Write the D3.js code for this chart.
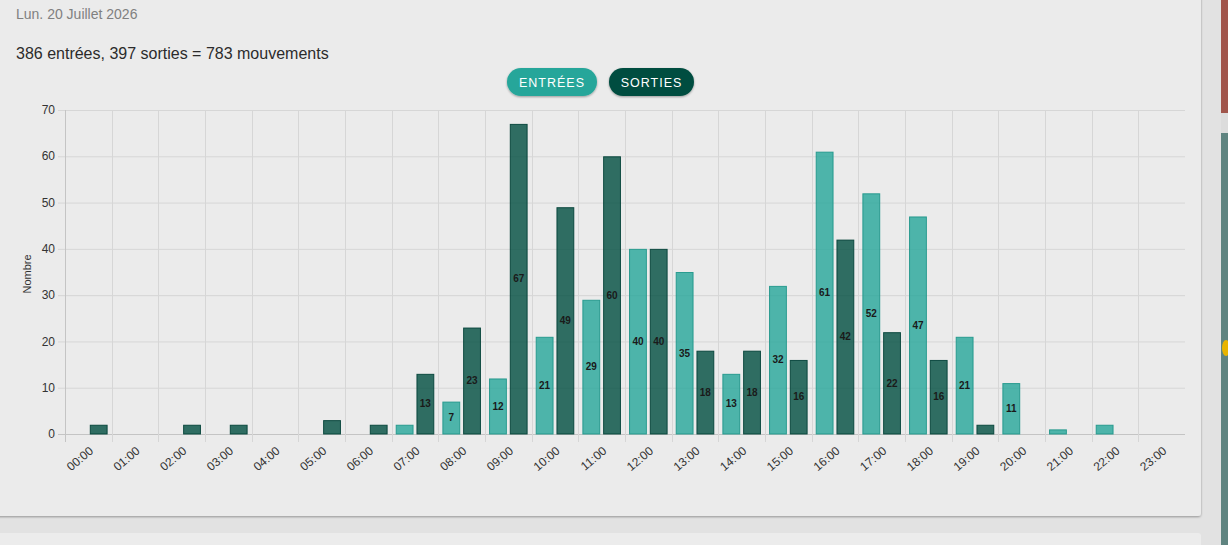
<!DOCTYPE html>
<html>
<head>
<meta charset="utf-8">
<script src="https://cdn.jsdelivr.net/npm/d3@7"></script>
<style>
  body { margin: 0; background: #e2e2e2; font-family: "Liberation Sans", Arial, sans-serif; }
  svg { display: block; }
</style>
</head>
<body>
<svg id="chart"></svg>
<script>
// hours on the x axis
var heures = ['00:00','01:00','02:00','03:00','04:00','05:00','06:00','07:00','08:00','09:00','10:00','11:00',
              '12:00','13:00','14:00','15:00','16:00','17:00','18:00','19:00','20:00','21:00','22:00','23:00'];
var entrees = [0,0,0,0,0,0,0,2,7,12,21,29,40,35,13,32,61,52,47,21,11,1,2,0];
var sorties = [2,0,2,2,0,3,2,13,23,67,49,60,40,18,18,16,42,22,16,2,0,0,0,0];
var yTicks = [0,10,20,30,40,50,60,70];
var series = [
    {name: 'ENTRÉES', values: entrees, fill: 'rgba(38,166,154,0.8)', stroke: 'rgba(30,150,138,0.9)', btn: '#26a69a'},
    {name: 'SORTIES', values: sorties, fill: 'rgba(0,77,64,0.8)', stroke: 'rgba(0,64,54,0.9)', btn: '#004d40'}
];

var W = 1228, H = 545;
var svg = d3.select('#chart').attr('width', W).attr('height', H);

// page decorations: right strip and cards
svg.append('rect').attr('x', 0).attr('y', 0).attr('width', W).attr('height', H).attr('fill', '#e2e2e2');
svg.append('rect').attr('x', 1221).attr('y', 0).attr('width', 7).attr('height', 113).attr('fill', '#a0554b');
svg.append('rect').attr('x', 1221).attr('y', 113).attr('width', 7).attr('height', 20).attr('fill', '#dcdcdc');
svg.append('rect').attr('x', 1221).attr('y', 133).attr('width', 7).attr('height', 412).attr('fill', '#5f8480');
svg.append('ellipse').attr('cx', 1226).attr('cy', 348).attr('rx', 4).attr('ry', 8).attr('fill', '#e8b400');

var defs = svg.append('defs');
var f = defs.append('filter').attr('id', 'shadow').attr('x', '-5%').attr('y', '-5%').attr('width', '110%').attr('height', '120%');
f.append('feDropShadow').attr('dx', 0).attr('dy', 1).attr('stdDeviation', 1).attr('flood-color', '#000').attr('flood-opacity', 0.35);

svg.append('rect').attr('x', -10).attr('y', 545 - 12).attr('width', 1211).attr('height', 40).attr('rx', 3)
    .attr('fill', '#ececec');
svg.append('rect').attr('x', -10).attr('y', -20).attr('width', 1211).attr('height', 536).attr('rx', 3)
    .attr('fill', '#ebebeb').attr('filter', 'url(#shadow)');

// header texts
svg.append('text').attr('x', 16).attr('y', 19).attr('font-size', 14).attr('fill', '#808080')
    .text('Lun. 20 Juillet 2026');
svg.append('text').attr('x', 16).attr('y', 59).attr('font-size', 16).attr('fill', '#2b2b2b')
    .text('386 entrées, 397 sorties = 783 mouvements');

// legend buttons
var btnPos = [{x: 507, w: 90}, {x: 609, w: 85}];
series.forEach(function(s, i) {
    var g = svg.append('g').attr('transform', 'translate(' + btnPos[i].x + ',68)');
    g.append('rect').attr('width', btnPos[i].w).attr('height', 28).attr('rx', 14)
        .attr('fill', s.btn).attr('filter', 'url(#shadow)');
    g.append('text').attr('x', btnPos[i].w / 2).attr('y', 18.5).attr('text-anchor', 'middle')
        .attr('font-size', 12.5).attr('fill', '#fff').attr('letter-spacing', 1).text(s.name);
});

// chart area
var plotL = 65, plotR = 1185, plotT = 110, plotB = 434;

var x = d3.scaleBand().domain(heures).range([plotL, plotR]).paddingInner(0).paddingOuter(0);
var inner = d3.scaleBand().domain([0, 1]).range([0, x.bandwidth()]).paddingOuter(0.125).paddingInner(0);
var y = d3.scaleLinear().domain([0, 70]).range([plotB, plotT]);

var grid = svg.append('g');
// horizontal grid
grid.selectAll('.hg').data(yTicks).enter().append('line')
    .attr('x1', plotL - 7).attr('x2', plotR)
    .attr('y1', function(d) { return y(d) + 0.5; }).attr('y2', function(d) { return y(d) + 0.5; })
    .attr('stroke', function(d) { return d === 0 ? '#c4c4c4' : '#d6d6d6'; }).attr('stroke-width', 1);
// vertical grid at band edges
var edges = heures.map(function(h) { return x(h); });
grid.selectAll('.vg').data(edges).enter().append('line')
    .attr('x1', function(d) { return Math.round(d) + 0.5; }).attr('x2', function(d) { return Math.round(d) + 0.5; })
    .attr('y1', plotT).attr('y2', plotB + 8)
    .attr('stroke', function(d, i) { return i === 0 ? '#c4c4c4' : '#d6d6d6'; }).attr('stroke-width', 1);

// y tick labels
svg.selectAll('.yl').data(yTicks).enter().append('text')
    .attr('x', plotL - 10).attr('y', function(d) { return y(d); }).attr('dy', '0.35em')
    .attr('text-anchor', 'end').attr('font-size', 12).attr('fill', '#333')
    .text(function(d) { return d; });

svg.append('text').attr('transform', 'translate(31,' + ((plotT + plotB) / 2 + 2) + ') rotate(-90)')
    .attr('text-anchor', 'middle').attr('font-size', 11).attr('fill', '#333').text('Nombre');

// x tick labels, rotated
svg.selectAll('.xl').data(heures).enter().append('text')
    .attr('transform', function(d) { return 'translate(' + (x(d) + x.bandwidth() / 2 + 3) + ',' + (plotB + 15) + ') rotate(-40)'; })
    .attr('text-anchor', 'end').attr('dy', '0.35em').attr('font-size', 12).attr('fill', '#333')
    .text(function(d) { return d; });

// bars
var bw = inner.bandwidth() * 0.86;
series.forEach(function(s, si) {
    var g = svg.append('g');
    var data = s.values.map(function(v, i) { return {h: heures[i], v: v}; }).filter(function(d) { return d.v > 0; });
    g.selectAll('rect').data(data).enter().append('rect')
        .attr('x', function(d) { return x(d.h) + inner(si) + (inner.bandwidth() - bw) / 2 + 0.5; })
        .attr('y', function(d) { return y(d.v) + 0.5; })
        .attr('width', bw - 1)
        .attr('height', function(d) { return plotB - y(d.v) - 0.5; })
        .attr('fill', s.fill).attr('stroke', s.stroke).attr('stroke-width', 1);
    g.selectAll('text').data(data.filter(function(d) { return d.v > 5; })).enter().append('text')
        .attr('x', function(d) { return x(d.h) + inner(si) + inner.bandwidth() / 2; })
        .attr('y', function(d) { return (y(d.v) + plotB) / 2; })
        .attr('dy', '0.35em').attr('text-anchor', 'middle')
        .attr('font-size', 10).attr('font-weight', 'bold').attr('fill', '#1a1a1a')
        .text(function(d) { return d.v; });
});
</script>
</body>
</html>
